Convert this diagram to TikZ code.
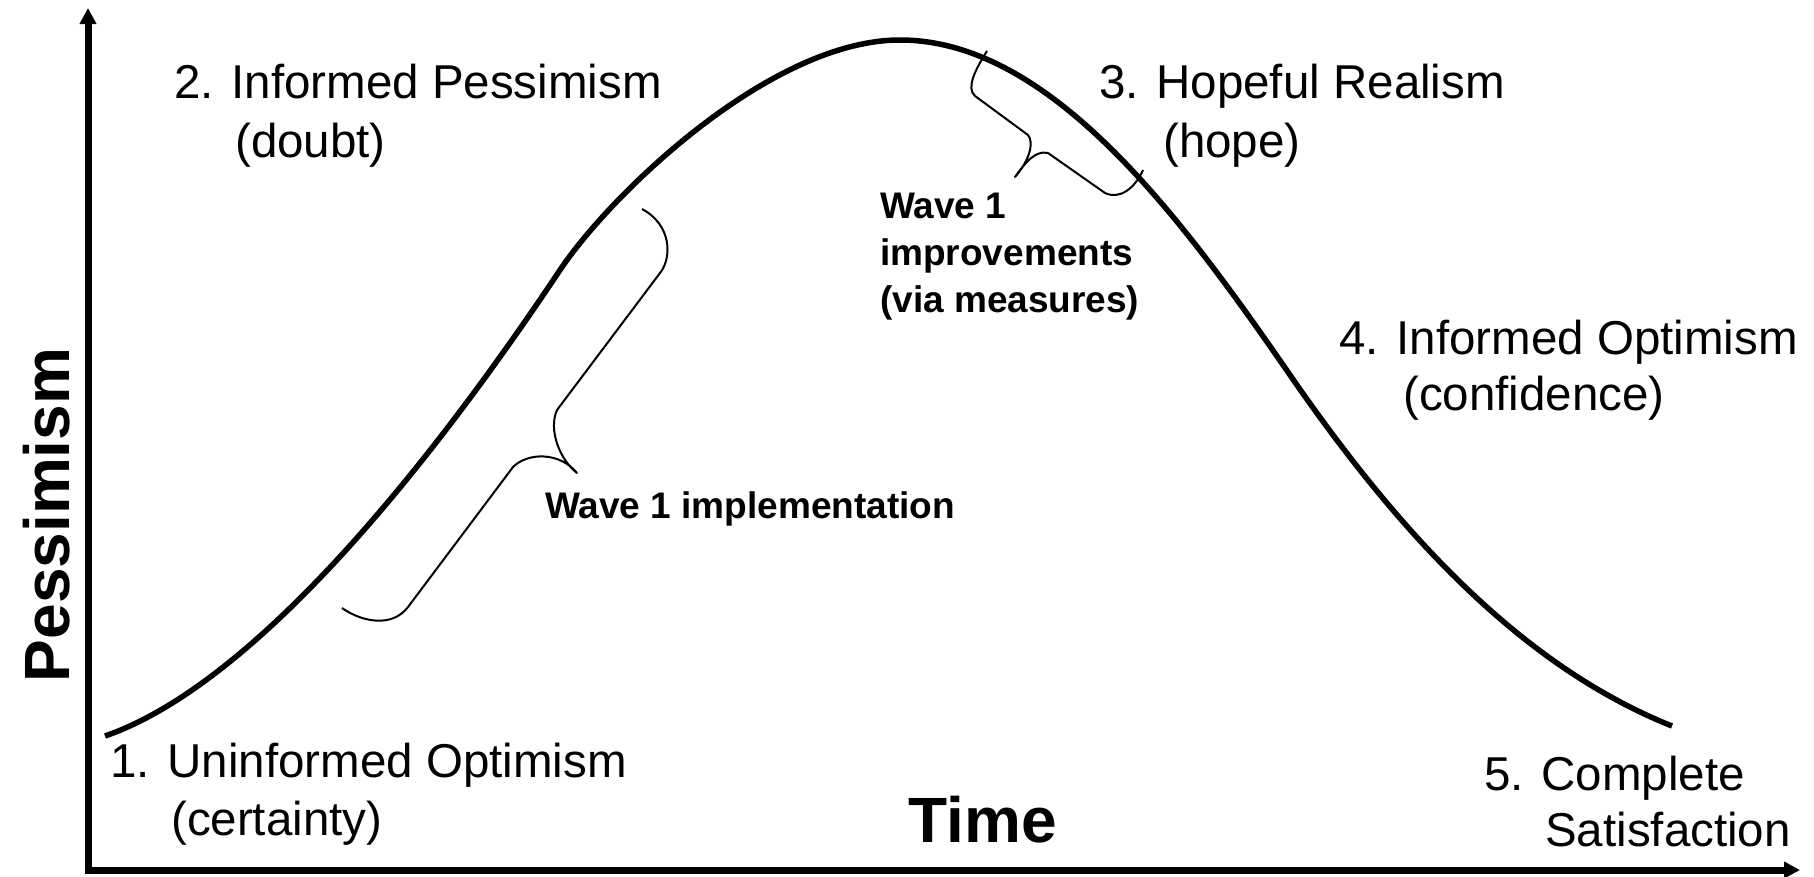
\documentclass[tikz,border=0pt]{standalone}
\usepackage{fontspec}
\setmainfont{Liberation Sans}
\usepackage{tikz}
\usetikzlibrary{arrows.meta}
\newcommand{\stagesize}{\fontsize{47.5}{57}\selectfont}
\newcommand{\notesize}{\fontsize{37}{46}\selectfont\bfseries}
\newcommand{\axissize}{\fontsize{64}{70}\selectfont\bfseries}

\begin{document}
\begin{tikzpicture}[x=1pt,y=-1pt,
  stage/.style={font=\stagesize,inner sep=0pt,anchor=base west},
  note/.style={font=\notesize,inner sep=0pt,anchor=base west},
  axislabel/.style={font=\axissize,inner sep=0pt,anchor=base},
  brace/.style={line width=2pt,line join=round},
  curve/.style={line width=5.5pt,line join=round},
  axis/.style={line width=7pt,>={Triangle[width=16pt,length=16pt]},<->}]
  \useasboundingbox (0,0) rectangle (1814,876);
  % axes
  \coordinate (ytop) at (88,8);
  \coordinate (origin) at (88,870);
  \coordinate (xend) at (1800,870);
  \draw[axis] (ytop) -- (origin) -- (xend);
  \node[axislabel] (time) at (983,842) {Time};
  \node[axislabel,rotate=90] (pess) at (69,515) {Pessimism};
  % the cycle
  \coordinate (c0) at (105,736);
  \coordinate (c1) at (560,270);
  \coordinate (top) at (900,40);
  \coordinate (c3) at (1290,375);
  \coordinate (c4) at (1672,726);
  \draw[curve] (c0) .. controls (255,684) and (430,465) .. (c1)
    .. controls (610,195) and (770,40) .. (top)
    .. controls (1050,40) and (1180,215.5) .. (c3)
    .. controls (1400,534.5) and (1522,666) .. (c4);
  % stages
  \node[stage] (s1) at (110,777) {1. Uninformed Optimism};
  \node[stage] (s1b) at (171,835) {(certainty)};
  \node[stage] (s2) at (174,98) {2. Informed Pessimism};
  \node[stage] (s2b) at (235,157) {(doubt)};
  \node[stage] (s3) at (1099,98) {3. Hopeful Realism};
  \node[stage] (s3b) at (1163,157) {(hope)};
  \node[stage] (s4) at (1339,354) {4. Informed Optimism};
  \node[stage] (s4b) at (1403,410) {(confidence)};
  \node[stage] (s5) at (1484,790) {5. Complete};
  \node[stage] (s5b) at (1545,846) {Satisfaction};
  % wave 1 braces
  \draw[brace] (342,608) .. controls (362,622) and (392,628) .. (408,607) -- (513,467)
    .. controls (528,452) and (560,452) .. (577,473)
    .. controls (560,460) and (548,430) .. (557,410) -- (660,273)
    .. controls (672,258) and (672,225) .. (642,209);
  \node[note] (impl) at (545,518) {Wave 1 implementation};
  \draw[brace] (987,51) .. controls (975,70) and (966,88) .. (975,96) -- (1028,135)
    .. controls (1034,142) and (1030,160) .. (1015,177)
    .. controls (1025,163) and (1035,150) .. (1048,153) -- (1105,193)
    .. controls (1120,200) and (1135,188) .. (1143,170);
  \node[note] (imp1) at (880,218) {Wave 1};
  \node[note] (imp2) at (880,265) {improvements};
  \node[note] (imp3) at (880,312) {(via measures)};
\end{tikzpicture}
\end{document}
